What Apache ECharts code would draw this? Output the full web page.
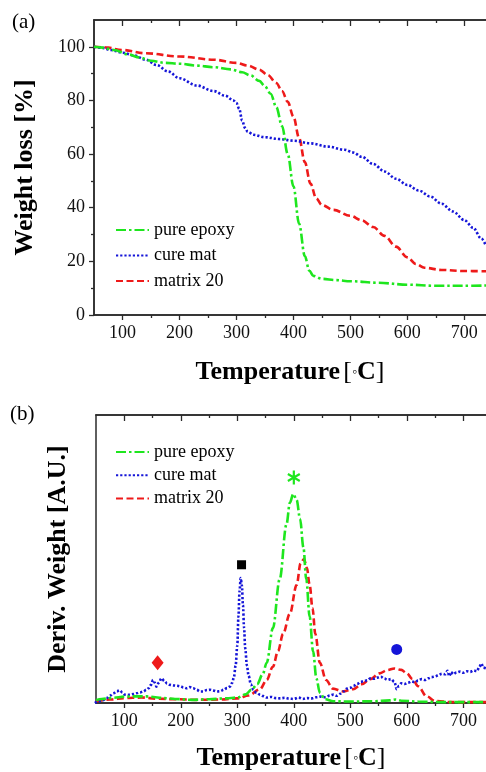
<!DOCTYPE html>
<html><head><meta charset="utf-8">
<script src="https://cdn.jsdelivr.net/npm/echarts@6/dist/echarts.min.js"></script>
<style>html,body{margin:0;padding:0;background:#fff}#c{width:486px;height:772px}</style>
</head><body><div id="c"></div>
<script>
// ---------- data ----------
const seriesNames = ['pure epoxy', 'cure mat', 'matrix 20'];
const tempLabels = [100, 200, 300, 400, 500, 600, 700];
const tempMinor = [150, 250, 350, 450, 550, 650];
const weightLabels = [0, 20, 40, 60, 80, 100];
const weightMinor = [10, 30, 50, 70, 90];

// (a) TGA weight curves: [temperature, weight %]
const tgaEpoxyT = [50,65,85,110,130,150,175,200,230,260,290,310,325,340,350,360,370,380,390,400,410,420,428,435,450,475,500,550,600,650,700,738];
const tgaEpoxyW = [100,99.7,98.8,97.2,96,94.8,94,93.7,93,92.4,91.6,90.5,89.3,87.3,85.3,82.5,77.5,70.5,60,48,34,22,16.5,14.6,13.5,13,12.6,12,11.3,10.9,10.9,11];
const tgaCureT = [50,65,80,100,120,140,160,180,200,230,260,280,295,300,305,310,315,320,330,350,375,400,430,460,490,505,520,540,560,580,600,620,640,660,680,700,715,730,738];
const tgaCureW = [100,99.6,98.8,97.8,96.8,95.3,93.2,90.8,88.3,85.6,83.5,81.8,80,79,76.8,72.5,69.8,68.3,67.2,66.3,65.6,65,64,62.8,61.6,60.6,59,56.3,53.5,50.8,48.5,46.4,44.2,41.5,38.6,35.4,32.6,28.5,25.8];
const tgaMatrixT = [50,70,100,140,200,260,300,320,340,355,370,380,390,400,410,420,430,440,450,470,500,520,540,560,580,600,615,630,660,700,738];
const tgaMatrixW = [100,99.8,98.8,97.6,96.4,95.2,94,93,91.5,89.5,86.5,83.5,79.5,74,66,57,49,43.5,41,39.2,37,35.3,32.8,29.5,25.5,21.5,19,17.6,16.8,16.4,16.3];

// (b) DTG derivative curves: [temperature, arbitrary units]
const dtgEpoxyT = [50,60,80,100,120,140,155,170,190,220,250,280,300,315,325,335,345,352,363,375,387,393,399,405,411,417,422,428,434,440,446,455,470,500,540,570,580,590,620,660,700,740];
const dtgEpoxyV = [1.0,1.4,1.8,2.2,2.3,2.3,2.0,1.7,1.4,1.1,1.3,1.6,1.9,3.0,4.6,6.5,10,14,26,43,62,69.5,72.6,70.5,64,54,43,30,18,8.5,3.6,1.3,0.6,0.5,0.6,0.9,1.2,0.8,0.5,0.3,0.3,0.3];
const dtgCureT = [48,55,62,69,75,81,87,92,97,101,106,110,116,122,128,134,139,143,147,151,154,157,161,166,171,176,181,187,193,199,205,211,216,222,228,234,240,246,252,258,264,270,276,282,287,291,294,297,300,302,304,306,308,310,312,314,317,320,324,328,334,340,346,352,360,368,376,384,392,400,408,416,424,432,440,448,456,464,470,476,482,488,494,500,506,512,518,524,530,536,542,548,554,560,566,572,578,582,586,590,596,602,608,614,620,626,632,638,644,650,656,662,668,672,675,678,682,688,694,700,706,712,718,724,728,732,735,740];
const dtgCureV = [0,0.6,1.0,1.7,2.6,3.4,4.1,4.4,3.6,2.9,2.8,2.9,3.1,3.4,3.7,4.0,4.6,5.1,6.2,8.0,7.0,5.7,7.0,8.6,7.6,6.8,6.3,6.1,6.0,5.8,5.4,5.1,5.5,5.1,4.6,4.0,4.0,4.5,4.6,4.3,4.0,4.1,4.6,5.2,5.7,7.0,9.0,13,20,30,39,43.4,41,34,26,19,13,9.5,6.5,4.6,3.5,2.9,2.4,1.9,2.1,1.7,1.6,1.8,1.5,1.4,1.9,1.4,1.7,1.6,2.0,2.2,2.0,2.6,2.9,2.5,3.2,4.0,5.0,5.3,6.0,6.6,7.3,7.6,7.9,8.6,8.4,8.8,9.1,8.5,8.0,8.3,7.3,4.8,6.0,6.8,6.6,7.0,7.5,7.2,7.8,8.3,8.0,8.6,9.0,9.2,9.7,10.2,10.0,11.2,9.3,10.8,10.0,10.6,10.9,10.5,11.0,10.8,11.3,11.0,12.5,13.7,12.3,12.0];
const dtgMatrixT = [50,75,100,130,160,190,230,270,300,320,340,352,363,372,381,393,405,412,418,423,428,433,438,446,457,469,487,505,520,535,552,565,578,590,600,610,620,635,650,680,740];
const dtgMatrixV = [0.6,1.2,1.7,1.9,1.5,1.3,1.1,1.2,1.6,2.6,4.8,8,12.6,18,24,31,41,48.5,50,47,41,33,24,14,8,5,4,4.8,6.5,8.3,10.3,11.4,12,11.5,10.3,8.3,5.8,2.3,0.7,0.3,0.3];

// peak markers in (b)
const markerNames = ['diamond', 'square', 'asterisk', 'circle'];
const markerT = [159, 307.5, 400, 582];
const markerV = [14, 48, 78.3, 18.6];

// ---------- styling ----------
const FONT = 'Liberation Serif';
const COLORS = ['#1ee61e', '#1515d8', '#ee1a1a'];
const LINE_TYPES = [[10, 3, 2.5, 3], [2.2, 2], [7, 3.5]];
const AXIS_COLOR = '#2a2a2a';
const zip = (a, b) => a.map((v, i) => [v, b[i]]);

function xAx(grid, pos, ticks, len, inside, labels, name, gap, max) {
  return {
    type: 'value', gridIndex: grid, position: pos, min: 50, max: max,
    axisLine: { show: true, onZero: false, lineStyle: { color: AXIS_COLOR, width: 1.5 } },
    axisTick: { show: true, inside: inside, length: len, customValues: ticks, lineStyle: { color: AXIS_COLOR, width: 1.3 } },
    axisLabel: labels ? { show: true, customValues: labels, margin: 9, color: '#111', fontFamily: FONT, fontSize: 18 } : { show: false },
    splitLine: { show: false },
    name: name || '', nameLocation: 'middle', nameGap: gap || 0,
    nameTextStyle: {
      rich: {
        b: { fontFamily: FONT, fontSize: 26, fontWeight: 'bold', color: '#000' },
        n: { fontFamily: FONT, fontSize: 26, color: '#000' },
        s: { fontFamily: FONT, fontSize: 14, color: '#000', verticalAlign: 'middle' }
      }
    }
  };
}
const xTitle = '{b|Temperature} {n|[}{s|◦}{b|C}{n|]}';

function yAx(grid, ticks, len, labels, name, gap, max, showLine) {
  return {
    type: 'value', gridIndex: grid, position: 'left', min: 0, max: max,
    axisLine: { show: showLine, onZero: false, lineStyle: { color: AXIS_COLOR, width: 1.5 } },
    axisTick: ticks ? { show: true, inside: false, length: len, customValues: ticks, lineStyle: { color: AXIS_COLOR, width: 1.3 } } : { show: false },
    axisLabel: labels ? { show: true, customValues: labels, margin: 9, color: '#111', fontFamily: FONT, fontSize: 18 } : { show: false },
    splitLine: { show: false },
    name: name || '', nameLocation: 'middle', nameGap: gap || 0,
    nameTextStyle: { fontFamily: FONT, fontSize: 26, fontWeight: 'bold', color: '#000' }
  };
}

function lineSeries(i, t, v, xi, yi) {
  return {
    name: seriesNames[i], type: 'line', xAxisIndex: xi, yAxisIndex: yi,
    data: zip(t, v), showSymbol: false, symbol: 'none', smooth: 0.35, smoothMonotone: 'x',
    lineStyle: { color: COLORS[i], width: 2.6, type: LINE_TYPES[i] },
    itemStyle: { color: COLORS[i] }, z: 3 - i + 2, animation: false
  };
}

const asteriskPath = 'path://M42 0L58 0L58 100L42 100Z M2.7 31.9L10.7 18.1L97.3 68.1L89.3 81.9Z M10.7 81.9L2.7 68.1L89.3 18.1L97.3 31.9Z';
const markerSymbols = ['diamond', 'rect', asteriskPath, 'circle'];
const markerSizes = [[12, 15], [9, 9], [13, 14], [11, 11]];
const markerColors = ['#ee1a1a', '#000000', '#1ee61e', '#1515d8'];

const legendBase = {
  data: seriesNames, orient: 'vertical', left: 115, padding: 0, itemWidth: 33, itemHeight: 14,
  itemStyle: { opacity: 0 },
  textStyle: { fontFamily: FONT, fontSize: 18, color: '#000', lineHeight: 18 }, selectedMode: false
};

const option = {
  backgroundColor: '#fff',
  animation: false,
  grid: [
    { left: 94, top: 20, right: 0, height: 295 },
    { left: 96, top: 415, right: 0, height: 291.7 }
  ],
  xAxis: [
    xAx(0, 'bottom', tempLabels, 5, false, tempLabels, xTitle, 44, 738),
    xAx(0, 'bottom', tempMinor, 3, false, null, '', 0, 738),
    xAx(0, 'top', tempLabels, 6, true, null, '', 0, 738),
    xAx(0, 'top', tempMinor, 3, true, null, '', 0, 738),
    xAx(1, 'bottom', tempLabels, 5, false, tempLabels, xTitle, 42, 740),
    xAx(1, 'bottom', tempMinor, 3, false, null, '', 0, 740),
    xAx(1, 'top', tempLabels, 6, true, null, '', 0, 740),
    xAx(1, 'top', tempMinor, 3, true, null, '', 0, 740)
  ],
  yAxis: [
    yAx(0, weightLabels, 5, weightLabels, 'Weight loss [%]', 56, 110, true),
    yAx(0, weightMinor, 3, null, '', 0, 110, true),
    yAx(1, null, 0, null, 'Deriv. Weight [A.U.]', 25, 100, true)
  ],
  legend: [
    Object.assign({}, legendBase, { top: 221, itemGap: 7.5 }),
    Object.assign({}, legendBase, { top: 443, itemGap: 5.3 })
  ],
  graphic: [
    { type: 'text', left: 12, top: 12, style: { text: '(a)', font: '21px "Liberation Serif"', fill: '#000' } },
    { type: 'text', left: 10, top: 404, style: { text: '(b)', font: '21px "Liberation Serif"', fill: '#000' } }
  ],
  series: [
    lineSeries(0, tgaEpoxyT, tgaEpoxyW, 0, 0),
    lineSeries(1, tgaCureT, tgaCureW, 0, 0),
    lineSeries(2, tgaMatrixT, tgaMatrixW, 0, 0),
    lineSeries(0, dtgEpoxyT, dtgEpoxyV, 4, 2),
    lineSeries(1, dtgCureT, dtgCureV, 4, 2),
    lineSeries(2, dtgMatrixT, dtgMatrixV, 4, 2)
  ].concat(markerNames.map((n, i) => ({
    name: n, type: 'scatter', xAxisIndex: 4, yAxisIndex: 2,
    data: [[markerT[i], markerV[i]]], symbol: markerSymbols[i], symbolSize: markerSizes[i],
    itemStyle: { color: markerColors[i], opacity: 1 }, z: 10, animation: false
  })))
};

const chart = echarts.init(document.getElementById('c'), null, { renderer: 'canvas' });
chart.setOption(option);
</script>
</body></html>
